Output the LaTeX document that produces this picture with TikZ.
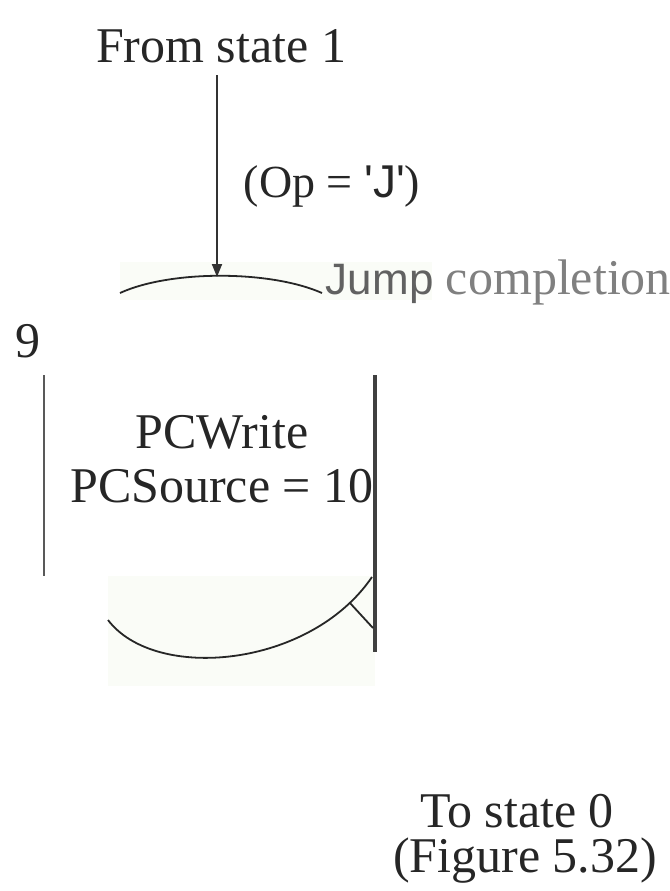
\documentclass[tikz,border=0pt]{standalone}
\usepackage{fontspec}
\setmainfont{Liberation Serif}
\newfontfamily\arialfont{Liberation Sans}
\usetikzlibrary{arrows.meta}
\definecolor{paleback}{RGB}{250,252,247}

\begin{document}
\begin{tikzpicture}[x=0.5pt,y=-0.5pt,line width=0.9pt,>={Triangle[width=5pt,length=6.5pt]},
  txt/.style={inner sep=0pt,anchor=base,text=black!85,font=\fontsize{25}{30}\selectfont},
  faint/.style={fill=paleback,draw=none}]
\useasboundingbox (0,0) rectangle (670,891);
% 淡色底块
\fill[faint] (120,262) rectangle (432,300);
\fill[faint] (108,576) rectangle (375,686);
% ---------- 入口 ----------
\node[txt] (from) at (221,62) {From state 1};
\node[txt,font=\fontsize{23}{28}\selectfont] (cond) at (332,197) {(Op = {\arialfont 'J'})};
\coordinate (top) at (217,277);
\draw[->,black!80] (217,75) -- (top);
% ---------- 状态 9 ----------
\draw[black!85] (120,293) .. controls (170,270) and (270,270) .. (322,293);
\node[txt,anchor=base west,text=black!50] (jump) at (325,294)
  {{\arialfont\fontsize{22}{26}\selectfont\color{black!62}Jump} completion};
\node[txt] (num) at (28,357) {9};
\draw[black!65] (44,375) -- (44,576);
\node[txt] (pcw) at (222,448) {PCWrite};
\node[txt] (pcs) at (222,502) {PCSource = 10};
\draw[black!75,line width=1.6pt] (375,375) -- (375,652);
\draw[black!85] (108,620) .. controls (155,682) and (310,668) .. (372,577);
\draw[black!85] (350,603) -- (373,628);
% ---------- 出口 ----------
\node[txt] (to) at (517,827) {To state 0};
\node[txt] (fig) at (525,872) {(Figure 5.32)};
\end{tikzpicture}
\end{document}
